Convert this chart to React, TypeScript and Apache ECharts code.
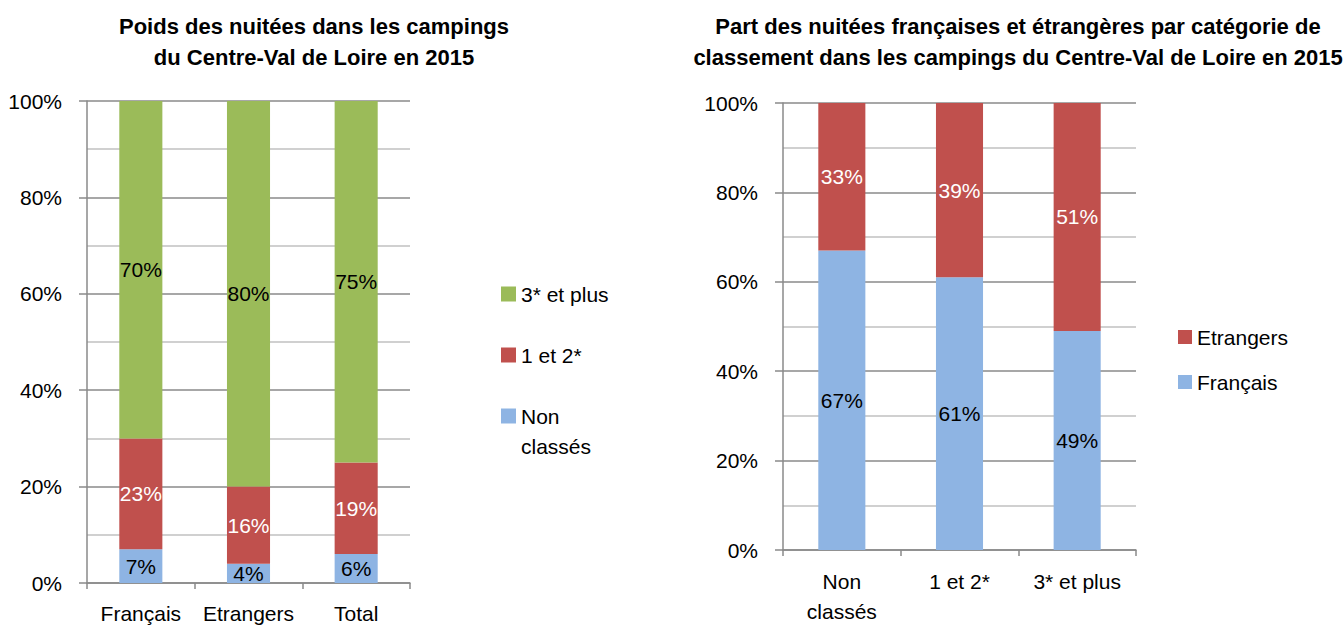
import React, { useEffect, useRef } from 'react';
import * as echarts from 'echarts';

// ---- Data ----
const leftCategories = ['Français', 'Etrangers', 'Total'];
const nonClasses = [7, 4, 6];
const unEtDeux = [23, 16, 19];
const troisEtPlus = [70, 80, 75];

const rightCategories = ['Non classés', '1 et 2*', '3* et plus'];
const francais = [67, 61, 49];
const etrangers = [33, 39, 51];

const leftTitle = ['Poids des nuitées dans les campings', 'du Centre-Val de Loire en 2015'];
const rightTitle = [
  'Part des nuitées françaises et étrangères par catégorie de',
  'classement dans les campings du Centre-Val de Loire en 2015',
];

const FONT = "'Liberation Sans', Arial, sans-serif";
const FS = 21;
const GREEN = '#9BBB59';
const RED = '#C0504D';
const BLUE = '#8EB4E3';
const AXIS = '#8a8a8a';
const MINOR = '#c0c0c0';

function yAxis(gridIndex: number) {
  return {
    type: 'value',
    gridIndex,
    min: 0,
    max: 100,
    interval: 20,
    axisLabel: { formatter: '{value}%', fontSize: FS, color: '#000', fontFamily: FONT, margin: 25 },
    axisLine: { show: true, lineStyle: { color: AXIS, width: 1.5 } },
    axisTick: { show: true, length: 8, lineStyle: { color: AXIS, width: 1.5 } },
    splitLine: { show: true, lineStyle: { color: AXIS, width: 1.5 } },
    minorTick: { show: false, splitNumber: 2 },
    minorSplitLine: { show: true, lineStyle: { color: MINOR, width: 1.5 } },
  };
}

function xAxis(gridIndex: number, data: string[], margin: number) {
  return {
    type: 'category',
    gridIndex,
    data,
    axisLine: { show: true, lineStyle: { color: AXIS, width: 1.5 } },
    axisTick: { show: true, alignWithLabel: false, length: 6, lineStyle: { color: AXIS, width: 1.5 } },
    axisLabel: {
      interval: 0,
      fontSize: FS,
      lineHeight: 30,
      color: '#000',
      fontFamily: FONT,
      margin,
      formatter: (v: string) => (v === 'Non classés' ? 'Non\nclassés' : v),
    },
  };
}

function barSeries(name: string, data: number[], color: string, labelColor: string, idx: number, stack: string) {
  return {
    name,
    type: 'bar',
    stack,
    data,
    xAxisIndex: idx,
    yAxisIndex: idx,
    barWidth: '40%',
    itemStyle: { color },
    label: {
      show: true,
      position: 'inside',
      formatter: '{c}%',
      color: labelColor,
      fontSize: FS,
      fontFamily: FONT,
    },
  };
}

const titleFont = `bold 22px ${FONT}`;
const legendText = { fontSize: FS, lineHeight: 30, color: '#000', fontFamily: FONT };

export default function App() {
  const ref = useRef<HTMLDivElement>(null);
  useEffect(() => {
    if (!ref.current) return;
    const chart = echarts.init(ref.current, null, { renderer: 'svg' });
    const option: any = {
      animation: false,
      backgroundColor: '#fff',
      grid: [
        { left: 87, top: 101, width: 323, height: 482, outerBoundsMode: 'none' },
        { left: 783, top: 103, width: 353, height: 447, outerBoundsMode: 'none' },
      ],
      xAxis: [xAxis(0, leftCategories, 15), xAxis(1, rightCategories, 16)],
      yAxis: [yAxis(0), yAxis(1)],
      legend: [
        {
          data: ['3* et plus', '1 et 2*'],
          orient: 'vertical',
          left: 501,
          top: 279,
          padding: 0,
          itemGap: 31,
          itemWidth: 15,
          itemHeight: 15,
          icon: 'rect',
          selectedMode: false,
          textStyle: legendText,
        },
        {
          data: ['Non classés'],
          orient: 'vertical',
          left: 501,
          top: 371,
          padding: 0,
          itemWidth: 15,
          itemHeight: 15,
          icon: 'rect',
          selectedMode: false,
          formatter: () => '\nNon\nclassés',
          textStyle: legendText,
        },
        {
          data: ['Etrangers', 'Français'],
          orient: 'vertical',
          left: 1178,
          top: 322,
          padding: 0,
          itemGap: 15,
          itemWidth: 14,
          itemHeight: 14,
          icon: 'rect',
          selectedMode: false,
          textStyle: legendText,
        },
      ],
      graphic: [
        {
          type: 'text',
          x: 314,
          y: 11,
          style: { text: leftTitle.join('\n'), font: titleFont, lineHeight: 31, align: 'center', verticalAlign: 'top', fill: '#000' },
        },
        {
          type: 'text',
          x: 1018,
          y: 11,
          style: { text: rightTitle.join('\n'), font: titleFont, lineHeight: 31, align: 'center', verticalAlign: 'top', fill: '#000' },
        },
      ],
      series: [
        barSeries('Non classés', nonClasses, BLUE, '#000', 0, 'left'),
        barSeries('1 et 2*', unEtDeux, RED, '#fff', 0, 'left'),
        barSeries('3* et plus', troisEtPlus, GREEN, '#000', 0, 'left'),
        barSeries('Français', francais, BLUE, '#000', 1, 'right'),
        barSeries('Etrangers', etrangers, RED, '#fff', 1, 'right'),
      ],
    };
    chart.setOption(option);
    return () => chart.dispose();
  }, []);
  return (
    <div
      ref={ref}
      style={{ position: 'absolute', left: 0, top: 0, width: 1344, height: 628, background: '#fff' }}
    />
  );
}
